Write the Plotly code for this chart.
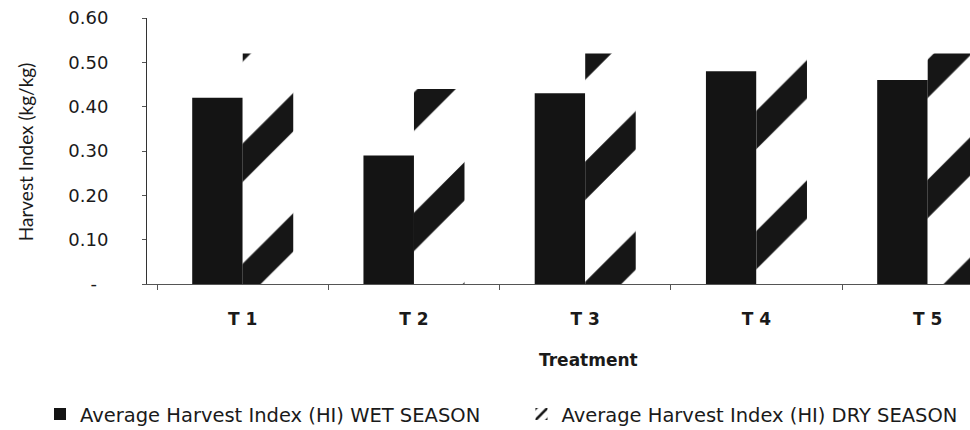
import plotly.graph_objects as go

# Harvest index per treatment, wet vs dry season
treatments = ["T 1", "T 2", "T 3", "T 4", "T 5"]
hi_wet = [0.42, 0.29, 0.43, 0.48, 0.46]
hi_dry = [0.52, 0.44, 0.52, 0.53, 0.52]

y_tickvals = [0, 0.1, 0.2, 0.3, 0.4, 0.5, 0.6]
y_ticktext = ["-\u00a0\u00a0", "0.10", "0.20", "0.30", "0.40", "0.50", "0.60"]

BAR_W = 0.295
LEGEND_FONT = dict(family="DejaVu Sans", size=19.5, color="#1a1a1a")

fig = go.Figure()
fig.add_trace(go.Bar(
    x=treatments, y=hi_wet,
    name="Average Harvest Index (HI) WET SEASON",
    width=BAR_W, offset=-BAR_W,
    marker=dict(color="#141414", line=dict(width=0)),
    legend="legend",
))
fig.add_trace(go.Bar(
    x=treatments, y=hi_dry,
    name="Average Harvest Index (HI) DRY SEASON",
    width=BAR_W, offset=0,
    marker=dict(
        color="white",
        line=dict(width=0),
        pattern=dict(shape="/", size=85, solidity=0.32,
                     fgcolor="#161616", fgopacity=1, bgcolor="white",
                     fillmode="replace"),
    ),
    legend="legend2",
))

fig.update_layout(
    width=970, height=430,
    margin=dict(l=147, r=0, t=18, b=146, autoexpand=False),
    paper_bgcolor="white", plot_bgcolor="white",
    barmode="overlay",
    showlegend=True,
    legend=dict(
        orientation="h",
        x=-0.13, xanchor="left",
        y=-0.49, yanchor="middle",
        font=LEGEND_FONT,
        bgcolor="rgba(0,0,0,0)",
    ),
    legend2=dict(
        orientation="h",
        x=0.455, xanchor="left",
        y=-0.49, yanchor="middle",
        font=LEGEND_FONT,
        bgcolor="rgba(0,0,0,0)",
    ),
    xaxis=dict(
        type="category",
        range=[-0.559, 4.247],
        showline=True, linecolor="#555", linewidth=1,
        ticks="outside", tickson="boundaries", ticklen=5, tickcolor="#555",
        showgrid=False, zeroline=False,
        tickfont=dict(family="DejaVu Sans", size=17, color="#1a1a1a", weight="bold"),
        ticklabelstandoff=20,
    ),
    yaxis=dict(
        range=[0, 0.6],
        tickvals=y_tickvals, ticktext=y_ticktext,
        showline=True, linecolor="#333", linewidth=1,
        ticks="outside", ticklen=4, tickcolor="#555",
        showgrid=False, zeroline=False,
        tickfont=dict(family="DejaVu Sans", size=18, color="#1a1a1a"),
        ticklabelstandoff=30,
    ),
    annotations=[
        dict(text="Harvest Index (kg/kg)", textangle=-90,
             xref="paper", yref="paper", x=-0.148, y=0.496,
             xanchor="center", yanchor="middle", showarrow=False,
             font=dict(family="Lato", size=19, color="#1a1a1a")),
        dict(text="<b>Treatment</b>",
             xref="paper", yref="paper", x=0.536, y=-0.286,
             xanchor="center", yanchor="middle", showarrow=False,
             font=dict(family="DejaVu Sans", size=17, color="#1a1a1a")),
    ],
)

fig.write_html("out.html")
